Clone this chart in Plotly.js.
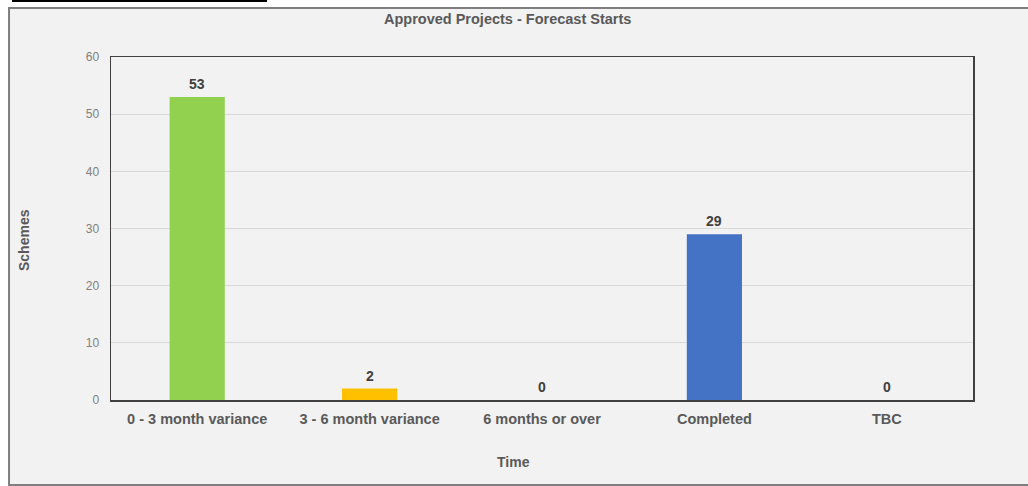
<!DOCTYPE html>
<html>
<head>
<meta charset="utf-8">
<script src="https://cdn.plot.ly/plotly-3.0.1.min.js"></script>
<style>
  html, body { margin: 0; padding: 0; background: #ffffff; }
  #chart { width: 1028px; height: 486px; }
</style>
</head>
<body>
<div id="chart"></div>
<script>
const categories = ["0 - 3 month variance", "3 - 6 month variance", "6 months or over", "Completed", "TBC"];
const values = [53, 2, 0, 29, 0];
const barColors = ["#92d050", "#ffc000", "#92d050", "#4472c4", "#4472c4"];
const yTicks = [0, 10, 20, 30, 40, 50, 60];
const chartTitle = "Approved Projects - Forecast Starts";
const xTitle = "Time";
const yTitle = "Schemes";

const FONT = "Liberation Sans, Arial, sans-serif";

const trace = {
  type: "bar",
  x: categories,
  y: values,
  marker: { color: barColors, line: { width: 0 } },
  hoverinfo: "x+y"
};

const labelAnnotations = categories.map((c, i) => ({
  x: c, y: values[i], xref: "x", yref: "y",
  text: String(values[i]),
  showarrow: false, yanchor: "bottom", yshift: 3,
  font: { family: FONT, size: 14, color: "#404040", weight: "bold" }
}));

const layout = {
  width: 1028, height: 486,
  margin: { l: 111, r: 55, t: 57, b: 86 },
  paper_bgcolor: "#ffffff",
  plot_bgcolor: "rgba(0,0,0,0)",
  bargap: 0.68,
  showlegend: false,
  font: { family: FONT },
  xaxis: {
    type: "category",
    showgrid: false,
    showline: true, mirror: true, linecolor: "#404040", linewidth: 1.5,
    ticks: "", ticklabelstandoff: 5,
    tickfont: { family: FONT, size: 14.5, color: "#595959", weight: "bold" },
    zeroline: false,
    fixedrange: true
  },
  yaxis: {
    range: [0, 60],
    tickvals: yTicks,
    showgrid: true, gridcolor: "#d9d9d9", gridwidth: 1,
    showline: true, mirror: true, linecolor: "#404040", linewidth: 1.5,
    ticks: "", ticklabelstandoff: 8,
    tickfont: { family: FONT, size: 12, color: "#808080" },
    zeroline: false,
    fixedrange: true
  },
  shapes: [
    { type: "rect", xref: "paper", yref: "paper", layer: "below",
      x0: -0.1183, x1: 1.07, y0: -0.2478, y1: 1.1429,
      fillcolor: "#f2f2f2", line: { color: "#7f7f7f", width: 2 } },
    { type: "line", xref: "paper", yref: "paper",
      x0: -0.1148, x1: 0.181, y0: 1.1633, y1: 1.1633,
      line: { color: "#000000", width: 2 } }
  ],
  annotations: [
    { text: chartTitle, xref: "paper", yref: "paper", x: 0.4603, y: 1.1108,
      showarrow: false, xanchor: "center", yanchor: "middle",
      font: { family: FONT, size: 14.5, color: "#595959", weight: "bold" } },
    { text: xTitle, xref: "paper", yref: "paper", x: 0.4664, y: -0.1808,
      showarrow: false, xanchor: "center", yanchor: "middle",
      font: { family: FONT, size: 14, color: "#595959", weight: "bold" } },
    { text: yTitle, xref: "paper", yref: "paper", x: -0.1009, y: 0.4665,
      showarrow: false, xanchor: "center", yanchor: "middle", textangle: -90,
      font: { family: FONT, size: 14, color: "#595959", weight: "bold" } }
  ].concat(labelAnnotations)
};

Plotly.newPlot("chart", [trace], layout, { displayModeBar: false, staticPlot: true });
</script>
</body>
</html>
